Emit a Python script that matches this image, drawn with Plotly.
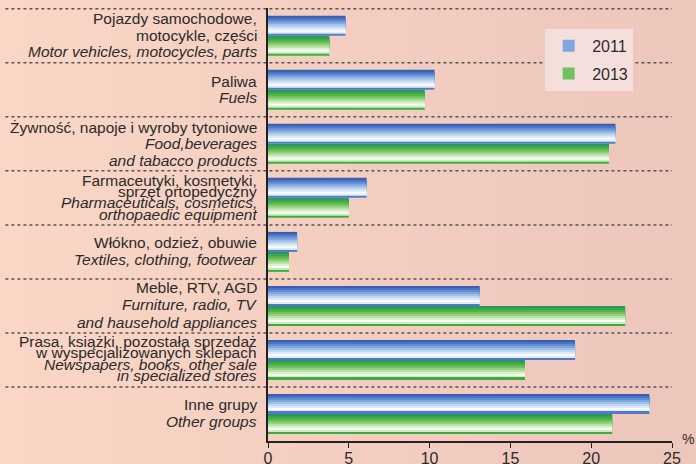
import plotly.graph_objects as go

# categories (top to bottom) and shares in %
categories = ["motor", "fuels", "food", "pharma", "textiles", "furniture", "press", "other"]
values_2011 = [4.8, 10.3, 21.5, 6.1, 1.8, 13.1, 19.0, 23.6]
values_2013 = [3.8, 9.7, 21.1, 5.0, 1.3, 22.1, 15.9, 21.3]

# label lines: (text, italic, yshift in px from category centre)
labels = {
    "motor": [("Pojazdy samochodowe,", False, 17), ("motocykle, części", False, 0),
              ("Motor vehicles, motocycles, parts", True, -16)],
    "fuels": [("Paliwa", False, 8), ("Fuels", True, -8)],
    "food": [("Żywność, napoje i wyroby tytoniowe", False, 16), ("Food,beverages", True, 0),
             ("and tabacco products", True, -17)],
    "pharma": [("Farmaceutyki, kosmetyki,", False, 17), ("sprzęt ortopedyczny", False, 6),
               ("Pharmaceuticals, cosmetics,", True, -5), ("orthopaedic equipment", True, -17)],
    "textiles": [("Włókno, odzież, obuwie", False, 9), ("Textiles, clothing, footwear", True, -8)],
    "furniture": [("Meble, RTV, AGD", False, 18), ("Furniture, radio, TV", True, 1),
                  ("and hausehold appliances", True, -17)],
    "press": [("Prasa, książki, pozostała sprzedaż", False, 18), ("w wyspecjalizowanych sklepach", False, 7),
              ("Newspapers, books, other sale", True, -5), ("in specialized stores", True, -16)],
    "other": [("Inne grupy", False, 9), ("Other groups", True, -8)],
}

# gradient stripes, top -> bottom of each bar
blues = ["#3a5db2", "#4c74c2", "#628dd2", "#7fa7de", "#9fc0e9",
         "#bed6f1", "#dde9f8", "#f8fbff", "#e2ecf8", "#4f7ac6"]
greens = ["#2b9660", "#3aa650", "#52b347", "#71c15f", "#95d17f",
          "#b9e1a6", "#daf0cf", "#f8fcf5", "#d0eac4", "#3cad3c"]

FONT = "Liberation Sans, Arial, sans-serif"
bar_w = 0.37

fig = go.Figure()

for name, vals, cols, base in [("2011", values_2011, blues, -bar_w), ("2013", values_2013, greens, 0)]:
    n = len(cols)
    step = bar_w / n
    # each stripe runs to the bottom of the bar, later ones cover earlier -> no seams
    for k, c in enumerate(cols):
        fig.add_trace(go.Bar(
            x=vals, y=categories, orientation="h",
            width=bar_w - k * step, offset=base + k * step,
            marker=dict(color=c, line=dict(width=0)),
            name=name, legendgroup=name, showlegend=(k == 3),
            hoverinfo="skip",
        ))

annotations = []
for cat in categories:
    for text, italic, ys in labels[cat]:
        annotations.append(dict(
            x=0, xref="paper", y=cat, yref="y", xanchor="right", yanchor="middle",
            xshift=-9, yshift=ys, showarrow=False,
            text=f"<i>{text}</i>" if italic else text,
            font=dict(family=FONT, size=15.5, color="#2b2b2b"),
        ))
annotations.append(dict(x=1, xref="paper", y=0, yref="paper", xanchor="left", yanchor="bottom",
                        xshift=8, yshift=-8, showarrow=False, text="%",
                        font=dict(family=FONT, size=14, color="#2b2b2b")))

# soft background: left peach -> right pinkish, done with thin adjacent bands
shapes = []
n_bands = 24
left_rgb, right_rgb = (249, 214, 197), (237, 198, 188)
for b in range(n_bands):
    t = b / (n_bands - 1)
    rgb = tuple(round(l + (r - l) * t) for l, r in zip(left_rgb, right_rgb))
    x0 = -0.67 + b * (1.75 / n_bands)
    shapes.append(dict(type="rect", xref="paper", yref="paper",
                       x0=x0, x1=x0 + 1.75 / n_bands + 0.005, y0=-0.1, y1=1.05,
                       fillcolor="rgb(%d,%d,%d)" % rgb, line=dict(width=0), layer="below"))
for i in range(len(categories)):
    shapes.append(dict(type="line", xref="paper", x0=-0.65, x1=1.0, yref="y",
                       y0=i - 0.5, y1=i - 0.5,
                       line=dict(color="#555555", width=1.5, dash="dot"), layer="below"))

fig.update_layout(
    width=696, height=464,
    margin=dict(l=268, r=24, t=8, b=23, autoexpand=False),
    paper_bgcolor="#f4cfc0", plot_bgcolor="rgba(0,0,0,0)",
    barmode="overlay",
    font=dict(family=FONT, size=15, color="#2b2b2b"),
    xaxis=dict(range=[0, 25], dtick=5, showgrid=False, zeroline=False, automargin=False,
               showline=True, linecolor="#222222", linewidth=1.5,
               ticks="outside", ticklen=5, tickcolor="#222222", ticklabelstandoff=-3,
               tickfont=dict(family=FONT, size=16, color="#2b2b2b")),
    yaxis=dict(autorange="reversed", showticklabels=False, showgrid=False, zeroline=False,
               automargin=False, showline=True, linecolor="#222222", linewidth=2, ticks=""),
    legend=dict(x=0.686, y=0.952, xanchor="left", yanchor="top",
                bgcolor="#f5dfdc", borderwidth=0, itemwidth=37,
                font=dict(family=FONT, size=16, color="#2b2b2b"),
                tracegroupgap=4),
    annotations=annotations,
    shapes=shapes,
)

fig.write_html("out.html", config={"displayModeBar": False},
               post_script="document.body.style.margin='0px';")
